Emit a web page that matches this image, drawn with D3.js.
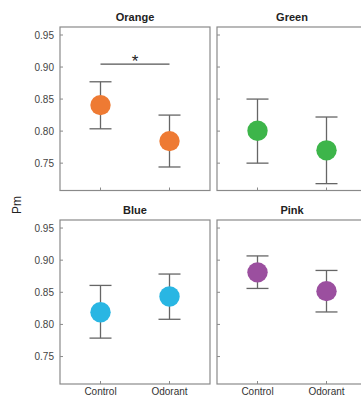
<!DOCTYPE html>
<html><head><meta charset="utf-8">
<script src="https://cdn.jsdelivr.net/npm/d3@7"></script>
<style>body{margin:0;background:#fff}svg{display:block}</style>
</head><body>
<script>
const panels = ["Orange", "Green", "Blue", "Pink"];
const colors = ["#EE7A33", "#3DB54A", "#29B6E3", "#9B4F9F"];
const categories = ["Control", "Odorant"];
const means = [[0.8406, 0.7844], [0.8005, 0.770], [0.819, 0.8435], [0.881, 0.8518]];
const upper = [[0.877, 0.825], [0.850, 0.822], [0.8607, 0.8784], [0.9066, 0.884]];
const lower = [[0.8036, 0.744], [0.750, 0.718], [0.7787, 0.808], [0.856, 0.8194]];
const yTicks = [0.75, 0.80, 0.85, 0.90, 0.95];
const sigLevel = 0.9047;

const W = 361, H = 397;
const svg = d3.select("body").append("svg").attr("width", W).attr("height", H);
const font = "Liberation Sans, Arial, Helvetica, sans-serif";

const boxes = [
  {x: 60, y: 27, w: 150, h: 163.5},
  {x: 217, y: 27, w: 150, h: 163.5},
  {x: 60, y: 220, w: 150, h: 164},
  {x: 217, y: 220, w: 150, h: 164}
];

panels.forEach((name, i) => {
  const b = boxes[i];
  const g = svg.append("g").attr("transform", `translate(${b.x},${b.y})`);
  const y = d3.scaleLinear().domain([0.7073, 0.9625]).range([b.h, 0]);
  const x = d3.scalePoint().domain(categories).range([40.5, 109.5]);

  g.append("rect").attr("width", b.w).attr("height", b.h)
    .attr("fill", "none").attr("stroke", "#8a8a8a").attr("stroke-width", 1.2);

  g.selectAll(".yt").data(yTicks).enter().append("line")
    .attr("x1", 0).attr("x2", 3).attr("y1", d => y(d)).attr("y2", d => y(d))
    .attr("stroke", "#8a8a8a");
  if (i % 2 === 0) {
    g.selectAll(".yl").data(yTicks).enter().append("text")
      .attr("x", -6).attr("y", d => y(d)).attr("dy", "0.35em")
      .attr("text-anchor", "end").attr("font-family", font).attr("font-size", 10)
      .attr("fill", "#444").text(d => d3.format(".2f")(d));
  }
  g.selectAll(".xt").data(categories).enter().append("line")
    .attr("x1", d => x(d)).attr("x2", d => x(d)).attr("y1", b.h).attr("y2", b.h - 3)
    .attr("stroke", "#8a8a8a");
  if (i >= 2) {
    g.selectAll(".xl").data(categories).enter().append("text")
      .attr("x", d => x(d)).attr("y", b.h + 10.5)
      .attr("text-anchor", "middle").attr("font-family", font).attr("font-size", 10)
      .attr("fill", "#333").text(d => d);
  }
  g.append("text").attr("x", b.w / 2).attr("y", -6)
    .attr("text-anchor", "middle").attr("font-family", font).attr("font-size", 11)
    .attr("font-weight", "bold").attr("fill", "#222").text(name);

  const data = categories.map((c, j) => ({c, m: means[i][j], u: upper[i][j], l: lower[i][j]}));
  const eb = g.selectAll(".eb").data(data).enter().append("g");
  eb.append("line").attr("x1", d => x(d.c)).attr("x2", d => x(d.c))
    .attr("y1", d => y(d.u)).attr("y2", d => y(d.l)).attr("stroke", "#666").attr("stroke-width", 1.3);
  ["u", "l"].forEach(k => {
    eb.append("line").attr("x1", d => x(d.c) - 11).attr("x2", d => x(d.c) + 11)
      .attr("y1", d => y(d[k])).attr("y2", d => y(d[k])).attr("stroke", "#666").attr("stroke-width", 1.3);
  });
  eb.append("circle").attr("cx", d => x(d.c)).attr("cy", d => y(d.m)).attr("r", 10.2)
    .attr("fill", colors[i]);

  if (i === 0) {
    g.append("line").attr("x1", x("Control")).attr("x2", x("Odorant"))
      .attr("y1", y(sigLevel)).attr("y2", y(sigLevel)).attr("stroke", "#555").attr("stroke-width", 1.3);
    g.append("text").attr("x", (x("Control") + x("Odorant")) / 2).attr("y", y(sigLevel) + 3)
      .attr("text-anchor", "middle").attr("font-family", font).attr("font-size", 17)
      .attr("fill", "#222").text("*");
  }
});

svg.append("text").attr("transform", "translate(21,205) rotate(-90)")
  .attr("text-anchor", "middle").attr("font-family", font).attr("font-size", 12)
  .attr("fill", "#222").text("Pm");
</script>
</body></html>
